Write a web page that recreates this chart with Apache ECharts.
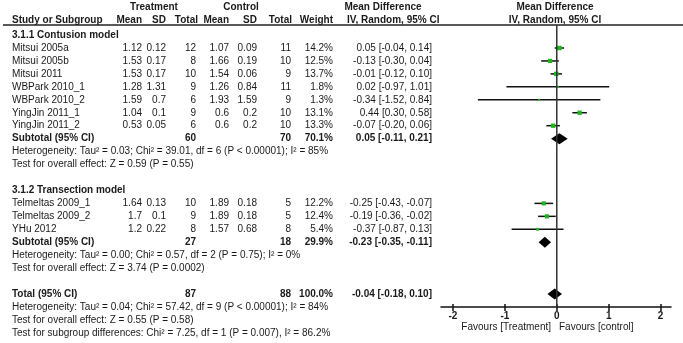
<!DOCTYPE html>
<html>
<head>
<meta charset="utf-8">
<script src="https://cdn.jsdelivr.net/npm/echarts@6/dist/echarts.min.js"></script>
<style>
  html, body { margin: 0; padding: 0; background: #fff; }
  #chart { width: 683px; height: 343px; }
</style>
</head>
<body>
<div id="chart"></div>
<script>
// study level data
const studies = ['Mitsui 2005a', 'Mitsui 2005b', 'Mitsui 2011', 'WBPark 2010_1', 'WBPark 2010_2',
  'YingJin 2011_1', 'YingJin 2011_2', 'Telmeltas 2009_1', 'Telmeltas 2009_2', 'YHu 2012'];
const studyRows = [0, 1, 2, 3, 4, 5, 6, 12, 13, 14];
const tMean = ['1.12', '1.53', '1.53', '1.28', '1.59', '1.04', '0.53', '1.64', '1.7', '1.2'];
const tSD = ['0.12', '0.17', '0.17', '1.31', '0.7', '0.1', '0.05', '0.13', '0.1', '0.22'];
const tTotal = [12, 8, 10, 9, 6, 9, 6, 10, 9, 8];
const cMean = ['1.07', '1.66', '1.54', '1.26', '1.93', '0.6', '0.6', '1.89', '1.89', '1.57'];
const cSD = ['0.09', '0.19', '0.06', '0.84', '1.59', '0.2', '0.2', '0.18', '0.18', '0.68'];
const cTotal = [11, 10, 9, 11, 9, 10, 10, 5, 5, 8];
const weight = [14.2, 12.5, 13.7, 1.8, 1.3, 13.1, 13.3, 12.2, 12.4, 5.4];
const md = [0.05, -0.13, -0.01, 0.02, -0.34, 0.44, -0.07, -0.25, -0.19, -0.37];
const ciLow = [-0.04, -0.30, -0.12, -0.97, -1.52, 0.30, -0.20, -0.43, -0.36, -0.87];
const ciHigh = [0.14, 0.04, 0.10, 1.01, 0.84, 0.58, 0.06, -0.07, -0.02, 0.13];

// pooled rows (two subtotals + total)
const pooledLabels = ['Subtotal (95% CI)', 'Subtotal (95% CI)', 'Total (95% CI)'];
const pooledRows = [7, 15, 19];
const pooledTTotal = [60, 27, 87];
const pooledCTotal = [70, 18, 88];
const pooledWeight = ['70.1%', '29.9%', '100.0%'];
const pooledMd = [0.05, -0.23, -0.04];
const pooledLow = [-0.11, -0.35, -0.18];
const pooledHigh = [0.21, -0.11, 0.10];

const groupLabels = ['3.1.1 Contusion model', '3.1.2 Transection model'];
const groupRows = [-1, 11];

const notes = [
  'Heterogeneity: Tau\u00b2 = 0.03; Chi\u00b2 = 39.01, df = 6 (P < 0.00001); I\u00b2 = 85%',
  'Test for overall effect: Z = 0.59 (P = 0.55)',
  'Heterogeneity: Tau\u00b2 = 0.00; Chi\u00b2 = 0.57, df = 2 (P = 0.75); I\u00b2 = 0%',
  'Test for overall effect: Z = 3.74 (P = 0.0002)',
  'Heterogeneity: Tau\u00b2 = 0.04; Chi\u00b2 = 57.42, df = 9 (P < 0.00001); I\u00b2 = 84%',
  'Test for overall effect: Z = 0.55 (P = 0.58)',
  'Test for subgroup differences: Chi\u00b2 = 7.25, df = 1 (P = 0.007), I\u00b2 = 86.2%'
];
const noteRows = [8, 9, 16, 17, 20, 21, 22];

const xTicks = [-2, -1, 0, 1, 2];

// layout
const W = 683, H = 343;
const ROW0_Y = 48;     // pixel y of row 0
const ROW_H = 12.95;   // pixel height of one row
const AXIS_Y = 307;    // pixel y of the forest plot axis
const FAMILY = '"Liberation Sans", Arial, sans-serif';
const FONT = '10px ' + FAMILY;
const FONT_B = 'bold 10px ' + FAMILY;
const COL = { name: 12, tMean: 142, tSD: 166, tTotal: 196, cMean: 229, cSD: 257, cTotal: 291, weight: 333, effect: 432 };

const fmt = v => v.toFixed(2);
const ciText = (m, l, h) => `${fmt(m)} [${fmt(l)}, ${fmt(h)}]`;

// text cells: [x, row, text, align, bold]
const cells = [];
studies.forEach((s, i) => {
  const r = studyRows[i];
  cells.push([COL.name, r, s, 'left', 0]);
  cells.push([COL.tMean, r, tMean[i], 'right', 0]);
  cells.push([COL.tSD, r, tSD[i], 'right', 0]);
  cells.push([COL.tTotal, r, String(tTotal[i]), 'right', 0]);
  cells.push([COL.cMean, r, cMean[i], 'right', 0]);
  cells.push([COL.cSD, r, cSD[i], 'right', 0]);
  cells.push([COL.cTotal, r, String(cTotal[i]), 'right', 0]);
  cells.push([COL.weight, r, weight[i].toFixed(1) + '%', 'right', 0]);
  cells.push([COL.effect, r, ciText(md[i], ciLow[i], ciHigh[i]), 'right', 0]);
});
pooledLabels.forEach((s, i) => {
  const r = pooledRows[i];
  cells.push([COL.name, r, s, 'left', 1]);
  cells.push([COL.tTotal, r, String(pooledTTotal[i]), 'right', 1]);
  cells.push([COL.cTotal, r, String(pooledCTotal[i]), 'right', 1]);
  cells.push([COL.weight, r, pooledWeight[i], 'right', 1]);
  cells.push([COL.effect, r, ciText(pooledMd[i], pooledLow[i], pooledHigh[i]), 'right', 1]);
});
groupLabels.forEach((s, i) => cells.push([COL.name, groupRows[i], s, 'left', 1]));
notes.forEach((s, i) => cells.push([COL.name, noteRows[i], s, 'left', 0]));

const rowMin = -ROW0_Y / ROW_H;
const rowMaxText = (H - ROW0_Y) / ROW_H;
const rowMaxPlot = (AXIS_Y - ROW0_Y) / ROW_H;
const zeroTopRow = (25 - ROW0_Y) / ROW_H;

function renderText(params, api) {
  const c = cells[params.dataIndex];
  const p = api.coord([api.value(0), api.value(1)]);
  return {
    type: 'text',
    x: p[0], y: p[1],
    style: {
      text: c[2], font: c[4] ? FONT_B : FONT, fill: '#1a1a1a',
      align: c[3], textAlign: c[3], verticalAlign: 'middle', textVerticalAlign: 'middle'
    }
  };
}

function renderStudy(params, api) {
  const row = api.value(1);
  const pm = api.coord([api.value(0), row]);
  const pl = api.coord([api.value(2), row]);
  const ph = api.coord([api.value(3), row]);
  const size = Math.max(2, Math.sqrt(api.value(4) / 14.2) * 4.5);
  return {
    type: 'group',
    children: [
      { type: 'line', shape: { x1: pl[0], y1: pl[1], x2: ph[0], y2: ph[1] },
        style: { stroke: '#111', lineWidth: 1.5 } },
      { type: 'rect', shape: { x: pm[0] - size / 2, y: pm[1] - size / 2, width: size, height: size },
        style: { fill: '#1fb51f' } }
    ]
  };
}

function renderDiamond(params, api) {
  const row = api.value(1);
  const pm = api.coord([api.value(0), row]);
  const pl = api.coord([api.value(2), row]);
  const ph = api.coord([api.value(3), row]);
  const h = 5.5;
  return {
    type: 'polygon',
    shape: { points: [[pl[0], pm[1]], [pm[0], pm[1] - h], [ph[0], pm[1]], [pm[0], pm[1] + h]] },
    style: { fill: '#000' }
  };
}

function header(text, x, y, align, bold) {
  return { type: 'text', x: x, y: y,
    style: { text: text, font: bold ? FONT_B : FONT, fill: '#1a1a1a',
      align: align, textAlign: align, verticalAlign: 'middle', textVerticalAlign: 'middle' } };
}

const chart = echarts.init(document.getElementById('chart'), null, { renderer: 'canvas' });
chart.setOption({
  animation: false,
  backgroundColor: '#fff',
  grid: [
    { left: 0, top: 0, width: W, height: H },
    { left: 441, top: 0, width: 230, height: AXIS_Y }
  ],
  xAxis: [
    { gridIndex: 0, type: 'value', min: 0, max: W, show: false },
    { gridIndex: 1, type: 'value', position: 'bottom', min: -2.23, max: 2.2,
      axisLine: { show: true, onZero: false, lineStyle: { color: '#111', width: 1.5 } },
      axisTick: { show: true, customValues: xTicks, length: 4, lineStyle: { color: '#111', width: 1.5 } },
      axisLabel: { customValues: xTicks, color: '#1a1a1a', fontSize: 10, fontWeight: 'bold',
        fontFamily: FAMILY, margin: 4 },
      splitLine: { show: false } },
    { gridIndex: 1, type: 'value', position: 'bottom', min: -2.23, max: 2.2,
      axisLine: { show: false, onZero: false },
      axisTick: { show: true, inside: true, customValues: xTicks, length: 3, lineStyle: { color: '#111', width: 1.5 } },
      axisLabel: { show: false },
      splitLine: { show: false } }
  ],
  yAxis: [
    { gridIndex: 0, type: 'value', inverse: true, min: rowMin, max: rowMaxText, show: false },
    { gridIndex: 1, type: 'value', inverse: true, min: rowMin, max: rowMaxPlot, show: false }
  ],
  graphic: [
    header('Treatment', 154, 7, 'center', 1),
    header('Control', 241, 7, 'center', 1),
    header('Mean Difference', 383, 7, 'center', 1),
    header('Mean Difference', 555, 7, 'center', 1),
    header('Study or Subgroup', COL.name, 20, 'left', 1),
    header('Mean', COL.tMean, 20, 'right', 1),
    header('SD', COL.tSD, 20, 'right', 1),
    header('Total', 198, 20, 'right', 1),
    header('Mean', COL.cMean, 20, 'right', 1),
    header('SD', COL.cSD, 20, 'right', 1),
    header('Total', 292, 20, 'right', 1),
    header('Weight', COL.weight, 20, 'right', 1),
    header('IV, Random, 95% CI', 347, 20, 'left', 1),
    header('IV, Random, 95% CI', 555, 20, 'center', 1),
    { type: 'line', shape: { x1: 3, y1: 25, x2: W, y2: 25 }, style: { stroke: '#222', lineWidth: 1.5 } },
    header('Favours [Treatment]', 551, 327, 'right', 0),
    header('Favours [control]', 559, 327, 'left', 0)
  ],
  series: [
    { type: 'custom', xAxisIndex: 0, yAxisIndex: 0, renderItem: renderText,
      data: cells.map(c => [c[0], c[1]]), silent: true },
    { type: 'line', xAxisIndex: 1, yAxisIndex: 1, data: [[0, zeroTopRow], [0, rowMaxPlot]],
      symbol: 'none', lineStyle: { color: '#333', width: 1.5 }, silent: true },
    { type: 'custom', xAxisIndex: 1, yAxisIndex: 1, renderItem: renderStudy, silent: true,
      data: md.map((m, i) => [m, studyRows[i], ciLow[i], ciHigh[i], weight[i]]) },
    { type: 'custom', xAxisIndex: 1, yAxisIndex: 1, renderItem: renderDiamond, silent: true,
      data: pooledMd.map((m, i) => [m, pooledRows[i], pooledLow[i], pooledHigh[i]]) }
  ]
});
</script>
</body>
</html>
